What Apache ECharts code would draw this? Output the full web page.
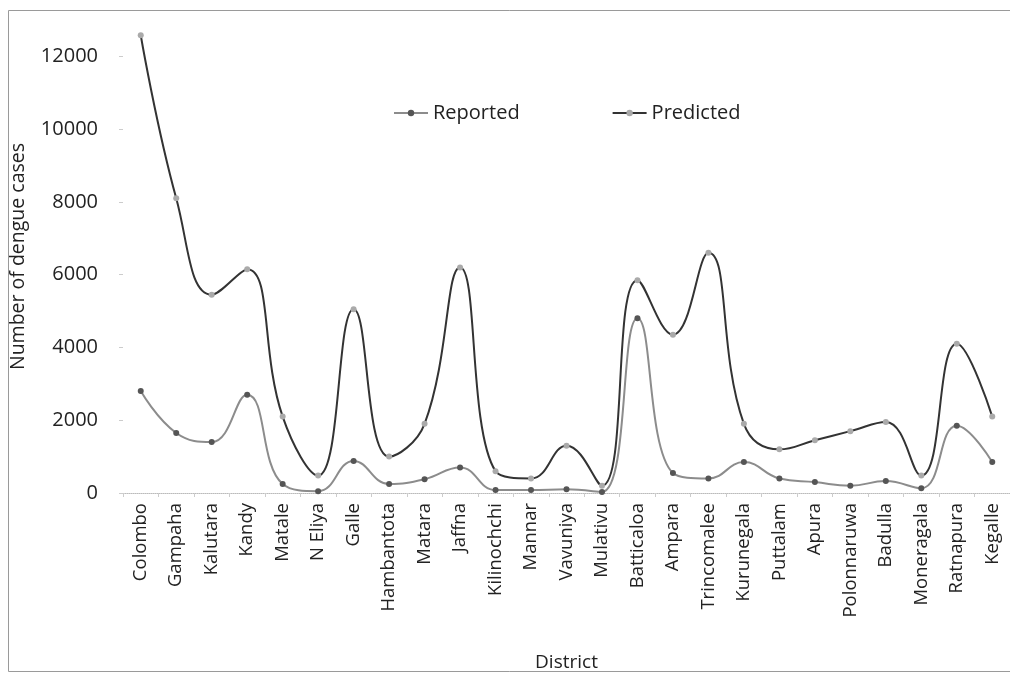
<!DOCTYPE html>
<html>
<head>
<meta charset="utf-8">
<script src="https://cdn.jsdelivr.net/npm/echarts@6/dist/echarts.min.js"></script>
<style>
html,body{margin:0;padding:0;background:#fff;}
#c{width:1010px;height:677px;}
</style>
</head>
<body>
<div id="c"></div>
<script>
const districts = ['Colombo','Gampaha','Kalutara','Kandy','Matale','N Eliya','Galle','Hambantota','Matara','Jaffna','Kilinochchi','Mannar','Vavuniya','Mulativu','Batticaloa','Ampara','Trincomalee','Kurunegala','Puttalam','Apura','Polonnaruwa','Badulla','Moneragala','Ratnapura','Kegalle'];
const reported = [2800,1650,1400,2700,250,50,880,250,380,700,80,80,100,30,4800,550,400,850,400,300,200,330,130,1850,850];
const predicted = [12580,8100,5450,6150,2100,480,5050,1000,1900,6200,600,400,1300,200,5850,4350,6600,1900,1200,1450,1700,1950,480,4100,2100];

const chart = echarts.init(document.getElementById('c'));
const font = 'Open Sans';
chart.setOption({
  animation: false,
  backgroundColor: '#fff',
  textStyle: { fontFamily: font },
  graphic: [{
    type: 'rect', shape: { x: 8.5, y: 10.5, width: 1010, height: 661 },
    style: { fill: 'none', stroke: '#9a9a9a', lineWidth: 1 }, z: -1
  }],
  legend: {
    left: 388, top: 98, itemGap: 92, itemWidth: 34, itemHeight: 8,
    textStyle: { fontFamily: font, fontSize: 20, color: '#222' },
    data: ['Reported', 'Predicted']
  },
  grid: { left: 123, right: -8, top: 20, bottom: 183 },
  xAxis: {
    type: 'category', data: districts, boundaryGap: true,
    name: 'District', nameLocation: 'middle', nameGap: 160,
    nameTextStyle: { fontFamily: font, fontSize: 19, color: '#222' },
    axisLine: { lineStyle: { color: '#bbb', type: 'dotted', width: 1 } },
    axisTick: { show: true, alignWithLabel: false, length: 4, lineStyle: { color: '#ccc' } },
    axisLabel: { rotate: 90, interval: 0, margin: 10, fontSize: 18.5, color: '#222', fontFamily: font }
  },
  yAxis: {
    type: 'value', min: 0, max: 13000, interval: 2000,
    name: 'Number of dengue cases', nameLocation: 'middle', nameGap: 95,
    nameTextStyle: { fontFamily: font, fontSize: 19.5, color: '#222' },
    axisLine: { show: false },
    axisTick: { show: true, length: 4, lineStyle: { color: '#ccc' } },
    splitLine: { show: false },
    axisLabel: { showMaxLabel: false, margin: 25, fontSize: 20, color: '#222', fontFamily: font,
      formatter: function (v) { return String(v); } }
  },
  series: [
    {
      name: 'Reported', type: 'line', data: reported, smooth: 0.45,
      symbol: 'circle', symbolSize: 6,
      lineStyle: { color: '#8c8c8c', width: 2 },
      itemStyle: { color: '#555' }, z: 2
    },
    {
      name: 'Predicted', type: 'line', data: predicted, smooth: 0.45,
      symbol: 'circle', symbolSize: 6,
      lineStyle: { color: '#333', width: 2 },
      itemStyle: { color: '#aaa' }, z: 3
    }
  ]
});
</script>
</body>
</html>
